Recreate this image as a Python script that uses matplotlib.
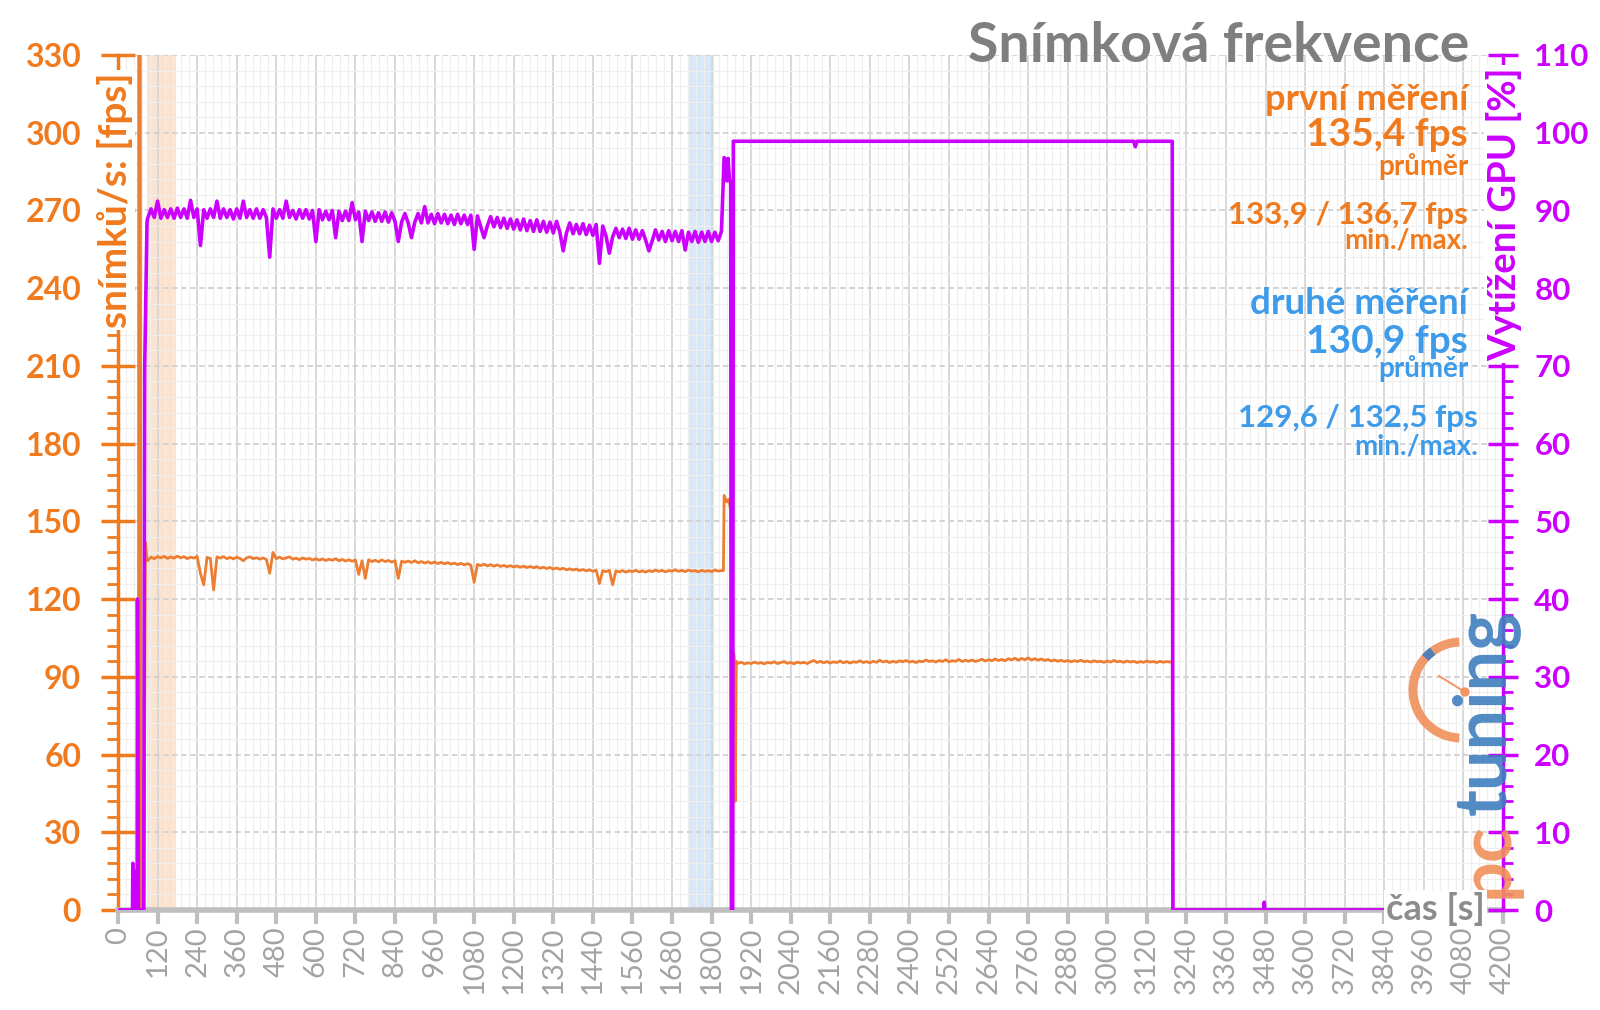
import numpy as np
import matplotlib
matplotlib.use('Agg')
import matplotlib.pyplot as plt
from matplotlib.ticker import MultipleLocator
from matplotlib.patches import Arc, Circle

plt.rcParams['font.family'] = ['Lato', 'DejaVu Sans']

# ---------------- data ----------------
x_ticks = list(range(0, 4201, 120))
fps_ticks = list(range(0, 331, 30))
gpu_ticks = list(range(0, 111, 10))

# start-up (fps)
fps_start_t = [0, 62, 63, 67, 69, 71, 79, 83, 88]
fps_start = [0, 0, 420, 420, 120, 0, 0, 142, 135]
# start-up (gpu)
gpu_start_t = [0, 44, 45, 47, 49, 51, 58, 59, 62, 78, 81, 84, 88]
gpu_start = [0, 0, 6, 0, 5, 0, 0, 40, 0, 0, 70, 78, 88.5]

# first run, sampled every 10 s from 90 s to 1830 s
run1_t = list(range(90, 1831, 10))
run1_fps = [
    134.8, 136.2, 135.6, 136.4, 135.9, 136.5, 135.7, 136.3, 135.8, 136.6,
    135.9, 136.4, 135.6, 136.2, 135.8, 136.5, 129.9, 125.5, 136.1, 135.7,
    123.5, 136.3, 135.8, 136.4, 135.6, 136.1, 135.5, 136.2, 135.7, 134.8,
    135.9, 136.3, 135.6, 136.0, 135.4, 135.9, 135.3, 130.0, 138.0, 135.6,
    136.2, 135.5, 135.9, 136.3, 135.4, 135.8, 135.2, 135.9, 135.4, 135.7,
    135.1, 135.6, 135.0, 135.5, 134.9, 135.4, 135.0, 135.6, 134.8, 135.3,
    134.7, 135.2, 134.6, 135.1, 129.5, 134.8, 128.0, 135.2, 134.5, 135.0,
    134.4, 135.1, 134.5, 134.9, 134.3, 134.8, 128.0, 134.6, 134.2, 134.7,
    134.1, 134.8, 134.0, 134.5, 133.9, 134.4, 133.8, 134.3, 133.7, 134.2,
    133.6, 134.1, 133.5, 133.9, 133.3, 133.8, 133.2, 133.7, 133.1, 126.5,
    133.4, 132.9, 133.5, 132.8, 133.3, 132.7, 133.2, 132.6, 133.0, 132.5,
    132.9, 132.4, 132.8, 132.3, 132.7, 132.2, 132.6, 132.1, 132.5, 131.9,
    132.3, 131.8, 132.2, 131.6, 132.0, 131.5, 131.9, 131.3, 131.7, 131.2,
    131.6, 131.0, 131.4, 130.9, 131.3, 130.7, 131.2, 126.0, 131.0, 130.6,
    131.1, 125.5, 130.9, 130.5, 131.0, 130.4, 130.9, 130.6, 131.1, 130.5,
    130.9, 130.4, 131.0, 130.6, 131.2, 130.7, 131.1, 130.5, 131.0, 130.8,
    131.3, 130.7, 131.1, 130.6, 131.2, 130.8, 131.0, 130.5, 131.1, 130.7,
    131.0, 130.6, 131.2, 130.8, 131.0,
]
run1_gpu = [
    89.0, 90.2, 89.1, 91.2, 89.0, 90.1, 89.1, 90.2, 89.0, 90.3,
    89.1, 90.2, 89.0, 91.3, 89.1, 90.2, 85.5, 90.1, 89.0, 90.2,
    89.1, 91.2, 89.0, 90.2, 89.1, 90.1, 88.9, 90.2, 89.0, 91.2,
    89.1, 90.1, 89.0, 90.2, 89.0, 90.1, 89.1, 84.0, 90.2, 89.0,
    90.1, 89.0, 91.2, 89.1, 90.0, 88.9, 90.1, 89.0, 90.1, 88.9,
    90.0, 86.0, 90.1, 88.8, 89.9, 88.8, 90.0, 86.5, 89.9, 88.7,
    89.9, 88.7, 91.0, 88.8, 89.8, 86.0, 89.9, 88.7, 89.8, 88.6,
    89.7, 88.6, 89.8, 88.5, 89.7, 88.6, 86.0, 88.5, 89.6, 88.4,
    86.5, 88.5, 89.6, 88.4, 90.5, 88.4, 89.5, 88.3, 89.6, 88.4,
    89.5, 88.3, 89.4, 88.2, 89.5, 88.3, 89.4, 88.2, 89.4, 85.0,
    89.3, 87.9, 86.5, 88.0, 89.2, 87.9, 89.1, 87.8, 89.0, 87.7,
    88.9, 87.6, 88.8, 87.5, 88.9, 87.4, 88.7, 87.3, 88.8, 87.3,
    88.6, 87.2, 88.5, 87.1, 88.6, 87.2, 84.8, 87.1, 88.4, 87.0,
    88.2, 87.0, 88.3, 86.9, 88.1, 86.8, 88.2, 83.2, 88.0, 86.7,
    84.5, 86.6, 87.7, 86.5, 87.6, 86.4, 87.7, 86.3, 87.5, 86.3,
    87.4, 86.2, 84.8, 86.1, 87.5, 86.2, 87.3, 86.0, 87.4, 86.1,
    87.3, 86.0, 87.4, 84.9, 87.2, 86.0, 87.3, 85.9, 87.2, 86.0,
    87.3, 86.0, 87.2, 86.1, 87.3,
]

# transition between the runs
fps_mid_t = [1836, 1838, 1846, 1852, 1858, 1861, 1864, 1866, 1869, 1872, 1875]
fps_mid = [131.0, 160.0, 157.5, 158.5, 154.0, 0, 0, 99.5, 97.5, 42.0, 96.0]
gpu_mid_t = [1838, 1842, 1846, 1850, 1854, 1858, 1860, 1864, 1866]
gpu_mid = [96.8, 96.6, 93.8, 96.7, 94.0, 93.5, 0, 0, 98.9]

# second run, sampled every 10 s from 1880 s to 3190 s
run2_t = list(range(1880, 3191, 10))
run2_fps = [
    95.2, 95.6, 95.0, 95.4, 95.1, 95.7, 95.2, 95.5, 95.0, 95.6,
    95.3, 95.8, 95.1, 95.5, 95.9, 95.2, 95.6, 95.0, 95.7, 95.3,
    95.6, 95.1, 95.8, 96.3, 95.5, 96.0, 95.4, 95.9, 95.3, 95.8,
    95.5, 96.1, 95.4, 95.9, 95.3, 95.8, 95.6, 96.2, 95.5, 95.9,
    95.4, 96.0, 95.6, 96.4, 95.7, 96.1, 95.5, 96.0, 95.6, 96.2,
    95.8, 96.3, 95.7, 96.0, 95.5, 96.1, 95.8, 96.5, 95.9, 96.2,
    95.7, 96.3, 95.9, 96.6, 95.8, 96.2, 96.0, 96.7, 95.9, 96.4,
    96.0, 96.5, 95.9, 96.3, 96.8, 96.1, 96.6, 96.2, 96.9, 96.3,
    96.7, 96.2, 97.0, 96.5, 97.2, 96.4, 97.1, 96.6, 97.3, 96.5,
    97.0, 96.4, 96.9, 96.3, 96.7, 96.1, 96.5, 96.0, 96.4, 95.9,
    96.3, 95.8, 96.2, 95.9, 96.4, 95.8, 96.1, 95.7, 96.2, 95.8,
    96.0, 95.6, 96.1, 95.7, 96.3, 95.8, 96.0, 95.6, 96.1, 95.7,
    96.0, 95.5, 95.9, 95.6, 96.1, 95.7, 95.9, 95.5, 96.0, 95.6,
    95.9, 95.7,
]
fps_end_t = [3197, 3199, 3846]
fps_end = [95.8, 0, 0]
gpu_run2_t = [1866, 3080, 3085, 3090, 3197, 3199, 3474, 3476, 3478, 3846]
gpu_run2 = [98.9, 98.9, 98.2, 98.9, 98.9, 0, 0, 1.0, 0, 0]

band_run1 = (88, 175)
band_run2 = (1732, 1808)

# ---------------- figure ----------------
W, H = 1600, 1010
def fx(x):
    return x / W
def fy(y):
    return 1 - y / H

ORANGE = '#ED7D31'
ORANGE_T = '#F07A1E'
MAG = '#CC00FF'
BLUE = '#3D9BEA'
GRAY = '#7F7F7F'

fig = plt.figure(figsize=(16, 10.1), dpi=100)
L, R, T, B = 118, 1503, 55, 910
ax = fig.add_axes([fx(L), fy(B), (R - L) / W, (B - T) / H])
ax.set_xlim(0, 4200)
ax.set_ylim(0, 330)

ax.axvspan(*band_run1, color='#FBE3D0', zorder=0.2, lw=0)
ax.axvspan(*band_run2, color='#D9E8F8', zorder=0.2, lw=0)

ax.set_xticks(x_ticks)
ax.set_xticklabels([str(v) for v in x_ticks], rotation=90)
ax.xaxis.set_minor_locator(MultipleLocator(24))
ax.set_yticks(fps_ticks)
ax.yaxis.set_minor_locator(MultipleLocator(6))

ax.grid(which='minor', color='#EFEFEF', lw=0.8, zorder=0.5)
ax.grid(which='major', axis='x', color='#D6D6D6', lw=1.3)
ax.grid(which='major', axis='y', color='#D0D0D0', lw=1.3, ls=(0, (3, 2)))
ax.set_axisbelow(True)

fps_t = fps_start_t + run1_t + fps_mid_t + run2_t + fps_end_t
fps = fps_start + run1_fps + fps_mid + run2_fps + fps_end
ax.plot(fps_t, fps, color=ORANGE, lw=2.0, zorder=3)

ax2 = ax.twinx()
ax2.set_ylim(0, 110)
ax2.set_yticks(gpu_ticks)
ax2.yaxis.set_minor_locator(MultipleLocator(2))
gpu_t = gpu_start_t + run1_t + gpu_mid_t + gpu_run2_t
gpu = gpu_start + run1_gpu + gpu_mid + gpu_run2
ax2.plot(gpu_t, gpu, color=MAG, lw=2.6, zorder=3)

for s in ['top', 'right']:
    ax.spines[s].set_visible(False)
for s in ['top', 'left', 'bottom']:
    ax2.spines[s].set_visible(False)
ax.spines['left'].set_color(ORANGE_T)
ax.spines['left'].set_linewidth(2.5)
ax.spines['bottom'].set_color('#BFBFBF')
ax.spines['bottom'].set_linewidth(4)
ax2.spines['right'].set_color(MAG)
ax2.spines['right'].set_linewidth(2.5)

ax.tick_params(axis='y', which='major', direction='inout', length=25, width=2.5,
               color=ORANGE_T, labelcolor=ORANGE_T, labelsize=23, pad=14)
ax.tick_params(axis='y', which='minor', direction='out', length=8, width=2, color=ORANGE_T)
for lab in ax.get_yticklabels():
    lab.set_fontweight('bold')
ax.tick_params(axis='x', which='major', direction='out', length=10, width=3,
               color='#BFBFBF', labelcolor='#A3A3A3', labelsize=21, pad=2)
ax.tick_params(axis='x', which='minor', length=0)

ax2.tick_params(axis='y', which='major', direction='inout', length=21, width=2.5,
                color=MAG, labelcolor=MAG, labelsize=22.5, pad=12)
ax2.tick_params(axis='y', which='minor', direction='out', length=7, width=2, color=MAG)
for lab in ax2.get_yticklabels():
    lab.set_fontweight('bold')

# axis titles drawn over the spines
wbox = dict(facecolor='white', edgecolor='none', pad=1.5)
fig.text(fx(115), fy(72), 'snímků/s: [fps]', rotation=90, ha='center', va='top',
         color=ORANGE_T, fontsize=28, fontweight='bold', bbox=wbox, zorder=10)
fig.text(fx(1504), fy(67), 'Vytížení GPU [%]', rotation=90, ha='center', va='top',
         color=MAG, fontsize=27.5, fontweight='bold', bbox=wbox, zorder=10)
fig.text(fx(1485), fy(909), 'čas [s]', ha='right', va='center',
         color='#8C8C8C', fontsize=26, fontweight='bold', bbox=wbox, zorder=10)

# title & statistics
fig.text(fx(1469), fy(46), 'Snímková frekvence', ha='right', va='center',
         color=GRAY, fontsize=40, fontweight='bold')
ann = [
    ('první měření', 100, 26, ORANGE_T, 1468),
    ('135,4 fps', 135, 28, ORANGE_T, 1468),
    ('průměr', 167, 20, ORANGE_T, 1468),
    ('133,9 / 136,7 fps', 215, 22.5, ORANGE_T, 1468),
    ('min./max.', 241, 20, ORANGE_T, 1468),
    ('druhé měření', 303, 26.5, BLUE, 1468),
    ('130,9 fps', 341, 28, BLUE, 1468),
    ('průměr', 369, 20, BLUE, 1468),
    ('129,6 / 132,5 fps', 418, 22.5, BLUE, 1478),
    ('min./max.', 446, 20, BLUE, 1478),
]
for txt, y, size, col, xr in ann:
    fig.text(fx(xr), fy(y), txt, ha='right', va='center', color=col,
             fontsize=size, fontweight='bold')

# pctuning logo
lax = fig.add_axes([fx(1400), fy(905), 130 / W, 345 / H])
lax.set_xlim(1400, 1530)
lax.set_ylim(H - 905, H - 560)
lax.axis('off')
cx, cy = 1461, H - 690
lax.add_patch(Arc((cx, cy), 96, 96, theta1=92, theta2=268, lw=6.5, color='#F0905A', alpha=0.9))
lax.add_patch(Arc((cx, cy), 96, 96, theta1=126, theta2=138, lw=6.5, color='#3F7FBF', alpha=0.9))
lax.plot([cx + 4, cx - 22], [cy - 2, cy + 14], color='#F0905A', lw=1.5, alpha=0.9)
lax.add_patch(Circle((cx + 4, cy - 2), 4, color='#F0905A', alpha=0.9))
lax.text(1485, H - 712, 'tuning', rotation=90, ha='center', va='center',
         color='#3F7FBF', fontsize=52, fontweight='bold', alpha=0.9)
lax.text(1487, H - 860, 'pc', rotation=90, ha='center', va='center',
         color='#F0905A', fontsize=52, fontweight='bold', alpha=0.9)

fig.savefig('out.png', dpi=100)
